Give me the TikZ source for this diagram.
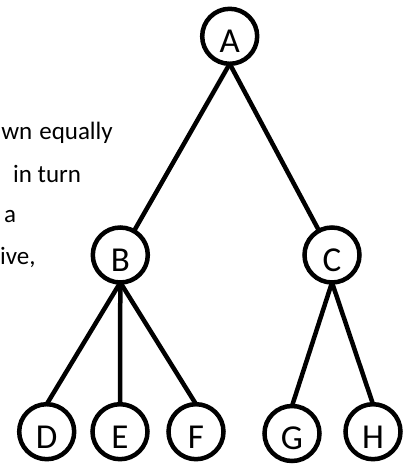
\documentclass[tikz,border=0pt]{standalone}
\usepackage{fontspec}
\setmainfont{Carlito}
\tikzset{
  treenode/.style={circle, draw=black, line width=4.5pt, minimum size=55pt,
    inner sep=0pt, outer sep=0pt, text height=33pt, text depth=0pt,
    font=\fontsize{35}{40}\selectfont},
  branch/.style={draw=black, line width=4.5pt},
  bodytext/.style={inner sep=0pt, font=\fontsize{25}{30}\selectfont}
}
\begin{document}
\begin{tikzpicture}[x=1pt, y=1pt]
  \clip (0,0) rectangle (414,464);
  \fill[white] (0,0) rectangle (414,464);

  % running text beside the tree
  \node[bodytext, anchor=base east] (t1) at (113,324) {wn\hskip 7pt equally};
  \node[bodytext, anchor=base west] (t2) at (13,281.3) {in turn};
  \node[bodytext, anchor=base west] (t3) at (4,241.3) {a};
  \node[bodytext, anchor=base west] (t4) at (0,199) {ive,};

  % tree nodes
  \node[treenode] (A) at (229.7,427.7) {A};
  \node[treenode] (B) at (120.3,209) {B};
  \node[treenode] (C) at (332,209) {C};
  \node[treenode] (D) at (46.7,32.3) {D};
  \node[treenode] (E) at (120,32.3) {E};
  \node[treenode] (F) at (196,32.3) {F};
  \node[treenode] (G) at (292,30.5) {G};
  \node[treenode] (H) at (373,32.3) {H};

  % branches
  \draw[branch] (A.south) -- (B);
  \draw[branch] (A.south) -- (C);
  \draw[branch] (B.south) -- (D.north);
  \draw[branch] (B.south) -- (E.north);
  \draw[branch] (B.south) -- (F.north);
  \draw[branch] (C.south) -- (G.north);
  \draw[branch] (C.south) -- (H.north);
\end{tikzpicture}
\end{document}
